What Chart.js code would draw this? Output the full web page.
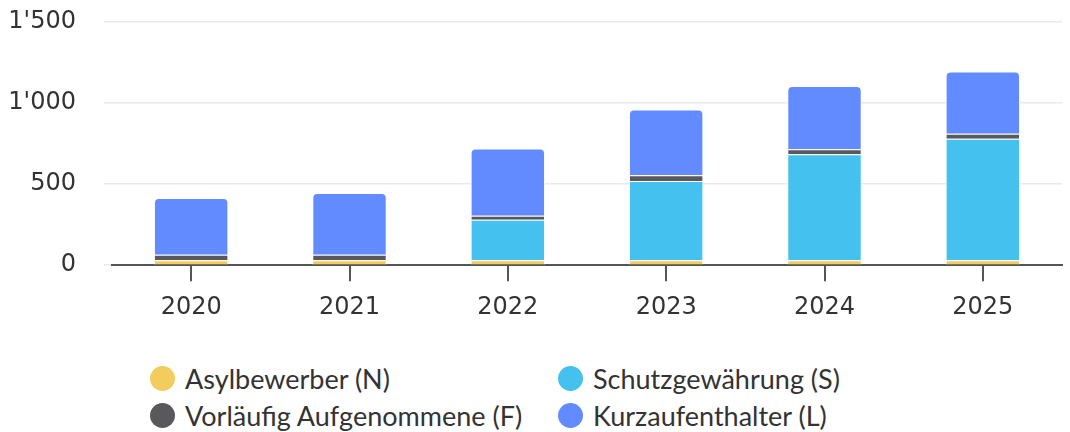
<!DOCTYPE html>
<html>
<head>
<meta charset="utf-8">
<script src="https://cdn.jsdelivr.net/npm/chart.js@4/dist/chart.umd.min.js"></script>
<style>
  html, body { margin: 0; padding: 0; background: #fff; }
  #wrap { position: relative; width: 1070px; height: 432px; }
  #chartBox { position: absolute; left: 0; top: 0; width: 1070px; height: 334px; }
  #legend { position: absolute; left: 150px; top: 366px; width: 800px;
            display: grid; grid-template-columns: 408px 392px; row-gap: 13px;
            font-family: Lato, sans-serif; font-size: 27px; color: #333; }
  #legend .item { display: flex; align-items: center; height: 24px; white-space: nowrap; }
  #legend .dot { width: 25px; height: 25px; border-radius: 50%; margin-right: 10px; flex: none; }
</style>
</head>
<body>
<div id="wrap">
  <div id="chartBox"><canvas id="bestandChart"></canvas></div>
  <div id="legend"></div>
</div>
<script>
// Daten
var jahre = ['2020', '2021', '2022', '2023', '2024', '2025'];
var asylbewerber = [30, 30, 30, 30, 30, 30];
var schutzgewaehrung = [0, 0, 250, 490, 655, 750];
var vorlaeufig = [35, 35, 25, 35, 30, 30];
var kurzaufenthalter = [350, 380, 415, 405, 390, 385];
var yTicks = [0, 500, 1000, 1500];

function formatZahl(v) {
  return String(v).replace(/\B(?=(\d{3})+(?!\d))/g, "'");
}

var ctx = document.getElementById('bestandChart').getContext('2d');

// Stapelreihenfolge von unten: N, S, F, L
var bestand = new Chart(ctx, {
  type: 'bar',
  data: {
    labels: jahre,
    datasets: [{
      label: 'Asylbewerber (N)',
      data: asylbewerber,
      backgroundColor: '#f3cc5e',
    },
    {
      label: 'Schutzgewährung (S)',
      data: schutzgewaehrung,
      backgroundColor: '#45c1ef',
    },
    {
      label: 'Vorläufig Aufgenommene (F)',
      data: vorlaeufig,
      backgroundColor: '#59595b',
    },
    {
      label: 'Kurzaufenthalter (L)',
      data: kurzaufenthalter,
      backgroundColor: '#628bff',
      borderRadius: 5,
    },
    ],
  },
  options: {
    responsive: true,
    maintainAspectRatio: false,
    animation: false,
    barPercentage: 0.47,
    categoryPercentage: 1,
    borderColor: '#fff',
    borderWidth: 1,
    borderSkipped: 'start',
    layout: { padding: { top: 22, right: 8, bottom: 0, left: 0 } },
    plugins: {
      legend: { display: false },
      tooltip: { enabled: false },
    },
    scales: {
      x: {
        stacked: true,
        grid: {
          offset: false,
          drawOnChartArea: false,
          drawTicks: true,
          tickLength: 16,
          color: '#555',
          lineWidth: 2,
        },
        border: { display: true, color: '#555', width: 2 },
        ticks: {
          padding: 12,
          color: '#333',
          font: { family: 'DejaVu Sans', size: 24 },
        },
      },
      y: {
        stacked: true,
        min: 0,
        max: 1500,
        afterFit: function(scale) {
          scale.width = 112;
          scale.paddingTop = 14;
          scale.paddingBottom = 14;
        },
        afterBuildTicks: function(scale) {
          scale.ticks = yTicks.map(function(v) { return { value: v }; });
        },
        grid: {
          color: '#e9e9e9',
          lineWidth: 1.5,
          drawTicks: true,
          tickLength: 8,
        },
        border: { display: false },
        ticks: {
          padding: 28,
          color: '#333',
          font: { family: 'DejaVu Sans', size: 24 },
          callback: function(v) { return formatZahl(v); },
        },
      },
    },
  },
});

// HTML-Legende (zweispaltig wie im Original)
var legendeHtml = '';
bestand.data.datasets.forEach(function(ds) {
  legendeHtml += '<div class="item"><span class="dot" style="background:' + ds.backgroundColor + '"></span>'
              + ds.label + '</div>';
});
document.getElementById('legend').innerHTML = legendeHtml;
</script>
</body>
</html>
